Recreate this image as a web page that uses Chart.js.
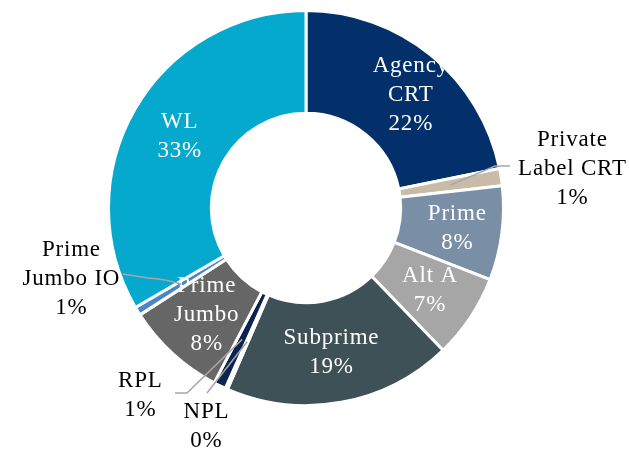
<!DOCTYPE html>
<html><head><meta charset="utf-8">
<script src="https://cdn.jsdelivr.net/npm/chart.js@4.4.0/dist/chart.umd.min.js"></script>
<style>html,body{margin:0;padding:0;background:#fff}#wrap{width:629px;height:453px}</style>
</head><body><div id="wrap"><canvas id="c" width="629" height="453"></canvas></div>
<script>
const categories = ["Agency CRT","Private Label CRT","Prime","Alt A","Subprime","NPL","RPL","Prime Jumbo","Prime Jumbo IO","WL"];
const shares = [21.8, 1.4, 7.7, 6.9, 18.7, 0.2, 1.0, 8.2, 0.7, 33.4];
const shareLabels = ["22%","1%","8%","7%","19%","0%","1%","8%","1%","33%"];
const nameLines = [["Agency","CRT"],["Private","Label CRT"],["Prime"],["Alt A"],["Subprime"],["NPL"],["RPL"],["Prime","Jumbo"],["Prime","Jumbo IO"],["WL"]];
const colors = ["#03306A","#C8BCA8","#7A8FA6","#A6A6A6","#3E5157","#0B2550","#0B2550","#666666","#4A86C5","#05A9CE"];

// label layout (style): inside labels offset from slice middle; outside labels relative to center
const labelStyle = [
  {inside:true, dx:12, dy:0},
  {inside:false, elbow:[189,-42], end:[204,-42], text:[266,-39]},
  {inside:true, dx:6, dy:2},
  {inside:true, dx:2, dy:1},
  {inside:true, dx:-1, dy:1},
  {inside:false, elbow:[-99,185], end:null, text:[-100,218]},
  {inside:false, elbow:[-119,185], end:[-131,185], text:[-166,187]},
  {inside:true, dx:-1, dy:-1},
  {inside:false, elbow:[-158,70], end:[-183,70], text:[-235,71], curve:true},
  {inside:true, dx:0, dy:1}
];

const labelPlugin = {
  id:'sliceLabels',
  afterDatasetsDraw(chart){
    const ctx = chart.ctx;
    const arcs = chart.getDatasetMeta(0).data;
    const font = '23px "Liberation Serif"';
    const lh = 29;
    ctx.save();
    ctx.font = font;
    try { ctx.letterSpacing = '0.8px'; } catch(e) {}
    ctx.textAlign = 'center';
    ctx.textBaseline = 'middle';
    arcs.forEach((arc, i) => {
      const p = arc.getProps(['x','y','startAngle','endAngle','innerRadius','outerRadius'], true);
      const a = (p.startAngle + p.endAngle)/2;
      const r = (p.innerRadius + p.outerRadius)/2;
      const mx = p.x + Math.cos(a)*r, my = p.y + Math.sin(a)*r;
      const lines = nameLines[i].concat([shareLabels[i]]);
      const st = labelStyle[i];
      let cx, cy;
      if (st.inside){
        cx = mx + st.dx; cy = my + st.dy;
        ctx.fillStyle = '#FFFFFF';
      } else {
        ctx.strokeStyle = '#A6A6A6';
        ctx.lineWidth = 1.5;
        ctx.beginPath();
        ctx.moveTo(mx, my);
        const ex = p.x + st.elbow[0], ey = p.y + st.elbow[1];
        if (st.curve){
          ctx.quadraticCurveTo((mx+ex)/2, ey+ (my-ey)*0.1, ex, ey);
          ctx.lineTo(p.x + st.end[0], p.y + st.end[1] - 4);
        } else {
          ctx.lineTo(ex, ey);
          if (st.end) ctx.lineTo(p.x + st.end[0], p.y + st.end[1]);
        }
        ctx.stroke();
        cx = p.x + st.text[0]; cy = p.y + st.text[1];
        ctx.fillStyle = '#000000';
      }
      const top = cy - (lines.length-1)*lh/2;
      lines.forEach((t, k) => ctx.fillText(t, cx + 0.4, top + k*lh));
    });
    ctx.restore();
  }
};

new Chart(document.getElementById('c'), {
  type:'doughnut',
  data:{ labels:categories, datasets:[{ data:shares, backgroundColor:colors, borderColor:'#FFFFFF', borderWidth:3, hoverBorderWidth:3 }]},
  options:{
    responsive:false, animation:false,
    radius:197.5, cutout:99,
    layout:{padding:{left:0,right:17,top:0,bottom:37}},
    plugins:{legend:{display:false}, tooltip:{enabled:false}}
  },
  plugins:[labelPlugin]
});
</script></body></html>
